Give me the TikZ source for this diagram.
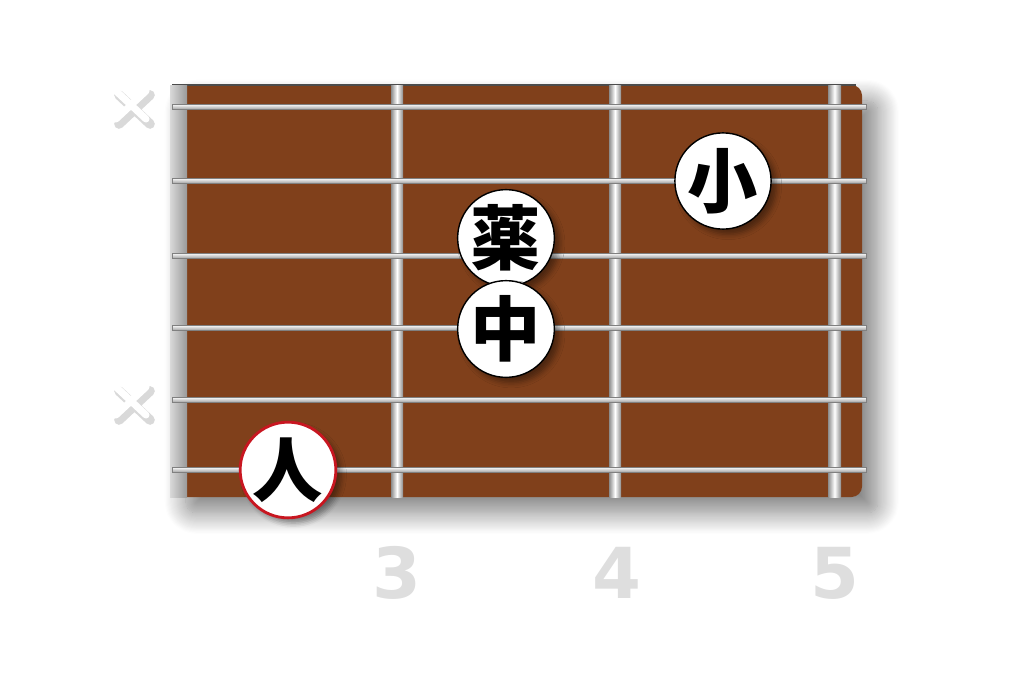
\documentclass[tikz,border=0pt]{standalone}
\usepackage{fontspec}
\newfontfamily\cjk{Noto Sans CJK JP}
\newfontfamily\digits{DejaVu Sans}
\usetikzlibrary{shadows.blur}
\definecolor{board}{RGB}{128,64,27}
\definecolor{ringred}{RGB}{200,22,32}
\tikzset{
  finger/.style={circle, draw=black, line width=0.8pt, fill=white, minimum size=1.8cm, inner sep=0pt,
    font=\cjk\bfseries\fontsize{40}{40}\selectfont,
    blur shadow={shadow xshift=3pt, shadow yshift=-3pt, shadow blur radius=3pt}},
  root/.style={finger, draw=ringred, line width=1.6pt},
  fretnum/.style={font=\digits\bfseries\fontsize{40}{40}\selectfont, text=black!13},
  fretbar/.style={left color=black!45, right color=black!45, middle color=white},
  stringbar/.style={top color=white, bottom color=black!35, draw=black!50, line width=0.2pt},
  mutemark/.style={white, line width=4pt, line cap=round},
  muteshade/.style={black!15, line width=5.5pt, line cap=round}
}
\begin{document}
\begin{tikzpicture}[x=0.02cm, y=-0.02cm]
  \useasboundingbox (0,0) rectangle (1024,683);
  \fill[board, rounded corners=6pt, blur shadow={shadow xshift=9pt, shadow yshift=-9pt, shadow blur radius=12pt, shadow blur steps=20, shadow opacity=50}] (170,85) rectangle (862,497);
  \draw[black!70, line width=0.6pt] (172,85) -- (856,85);
  \shade[left color=black!15, middle color=white, right color=black!40] (170,85) rectangle (187,497);
  \shade[fretbar] (391,85) rectangle (403,497);
  \shade[fretbar] (609,85) rectangle (621,497);
  \shade[fretbar] (828,85) rectangle (841,497);
  \shade[stringbar] (172,104) rectangle (866,109);
  \shade[stringbar] (172,178) rectangle (866,183);
  \shade[stringbar] (172,253) rectangle (866,258);
  \shade[stringbar] (172,325) rectangle (866,330);
  \shade[stringbar] (172,397) rectangle (866,402);
  \shade[stringbar] (172,467) rectangle (866,472);
  \draw[muteshade] (119,95) -- (150,124) (150,95) -- (119,124);
  \draw[mutemark] (116,91) -- (146,119) (146,91) -- (116,119);
  \draw[muteshade] (119,391) -- (150,420) (150,391) -- (119,420);
  \draw[mutemark] (116,387) -- (146,415) (146,387) -- (116,415);
  \node[finger] (pinky) at (723,181) {小};
  \node[finger] (ring) at (506,238) {薬};
  \node[finger] (middle) at (506,329) {中};
  \node[root] (index) at (288,470) {人};
  \node[fretnum] (fret3) at (397,573) {3};
  \node[fretnum] (fret4) at (617,573) {4};
  \node[fretnum] (fret5) at (835,573) {5};
\end{tikzpicture}
\end{document}
